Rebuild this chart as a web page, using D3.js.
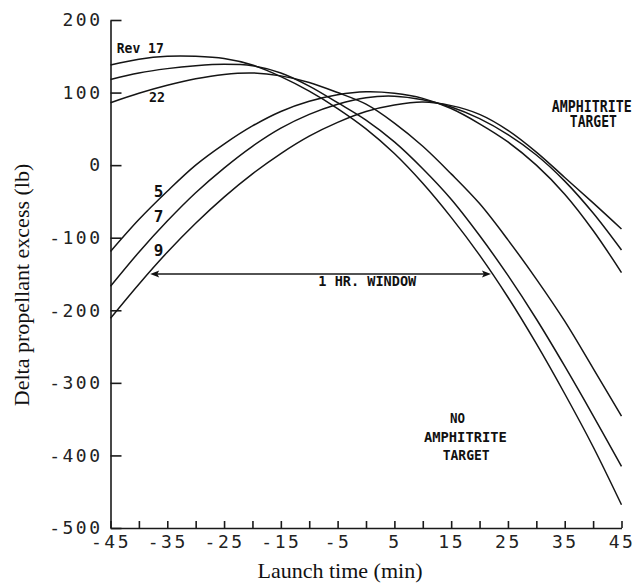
<!DOCTYPE html>
<html>
<head>
<meta charset="utf-8">
<script src="https://cdn.jsdelivr.net/npm/d3@7"></script>
<style>
  body { margin: 0; background: #fff; }
  .tick-label { font-family: "DejaVu Sans Mono", monospace; font-size: 18px; fill: #222; letter-spacing: 2.5px; }
  .note { font-family: "DejaVu Sans Mono", monospace; font-weight: bold; fill: #111; }
  .axis-title { font-family: "Liberation Serif", "Times New Roman", serif; font-size: 22px; fill: #111; }
  .curve { fill: none; stroke: #151515; stroke-width: 1.5px; }
  .axis-line { stroke: #1a1a1a; stroke-width: 1.6px; }
</style>
</head>
<body>
<div id="chart"></div>
<script>
  const w = 642;
  const h = 584;

  // launch time (min), every 5 minutes
  const minutes = [-45, -40, -35, -30, -25, -20, -15, -10, -5, 0, 5, 10, 15, 20, 25, 30, 35, 40, 45];

  // delta propellant excess (lb)
  const rev17 = [138, 146, 150, 150, 147, 138, 122, 102, 78, 50, 16, -25, -72, -124, -182, -246, -315, -388, -468];
  const revMiddle = [118, 127, 133, 137, 139, 137, 127, 109, 86, 62, 32, -5, -47, -97, -152, -212, -277, -345, -415];
  const rev22 = [86, 99, 110, 119, 125, 127, 123, 114, 100, 84, 58, 26, -12, -53, -103, -157, -215, -280, -346];
  const rev5 = [-119, -75, -36, 0, 29, 54, 74, 88, 97, 101, 99, 92, 78, 57, 32, 0, -40, -90, -148];
  const rev7 = [-167, -120, -77, -38, -4, 26, 51, 70, 84, 93, 95, 90, 80, 64, 42, 14, -22, -66, -117];
  const rev9 = [-211, -164, -120, -80, -44, -12, 16, 40, 59, 74, 83, 87, 82, 70, 48, 18, -17, -52, -88];

  const yTicks = [200, 100, 0, -100, -200, -300, -400, -500];
  const windowMinutes = [-38, 22];
  const windowLevel = -150;

  const series = [rev17, revMiddle, rev22, rev5, rev7, rev9];

  const x = d3.scaleLinear().domain([-45, 45]).range([110.5, 621.5]);
  const y = d3.scaleLinear().domain([-500, 200]).range([528, 20]);

  const svg = d3.select('#chart')
    .append('svg')
      .attr('width', w)
      .attr('height', h);

  // y axis, ticks pointing into the plot
  const yAxis = svg.append('g')
      .attr('transform', 'translate(' + x(-45) + ',0)')
      .call(d3.axisLeft(y)
        .tickValues(yTicks)
        .tickSize(-11)
        .tickSizeOuter(0)
        .tickPadding(8)
        .tickFormat(d => String(d)));

  // x axis, small ticks every 5 min, labels every 10
  const xAxis = svg.append('g')
      .attr('transform', 'translate(0,' + y(-500) + ')')
      .call(d3.axisBottom(x)
        .tickValues(minutes)
        .tickSize(-7)
        .tickSizeOuter(0)
        .tickPadding(7)
        .tickFormat((d, i) => i % 2 === 0 ? String(d) : ''));

  [yAxis, xAxis].forEach(a => {
    a.select('.domain').classed('axis-line', true);
    a.selectAll('.tick line').classed('axis-line', true);
    a.selectAll('.tick text').attr('class', 'tick-label');
  });

  // curves
  const line = d3.line()
      .x((d, i) => x(minutes[i]))
      .y(d => y(d))
      .curve(d3.curveCatmullRom.alpha(0.5));

  svg.append('g').selectAll('path')
      .data(series)
    .enter().append('path')
      .attr('class', 'curve')
      .attr('d', line);

  // 1 hr window arrow
  const ay = y(windowLevel);
  const ax1 = x(windowMinutes[0]);
  const ax2 = x(windowMinutes[1]);
  svg.append('line')
      .attr('x1', ax1 + 4).attr('x2', ax2 - 4)
      .attr('y1', ay).attr('y2', ay)
      .attr('class', 'axis-line');
  svg.append('path')
      .attr('d', `M${ax1},${ay} L${ax1 + 9},${ay - 3.5} L${ax1 + 7},${ay} L${ax1 + 9},${ay + 3.5} Z`)
      .style('fill', '#111');
  svg.append('path')
      .attr('d', `M${ax2},${ay} L${ax2 - 9},${ay - 3.5} L${ax2 - 7},${ay} L${ax2 - 9},${ay + 3.5} Z`)
      .style('fill', '#111');

  // notes
  const note = (t, v, txt, size, len) => {
    const el = svg.append('text')
        .attr('class', 'note')
        .attr('x', x(t))
        .attr('y', y(v))
        .style('font-size', size + 'px')
        .text(txt);
    if (len) el.attr('textLength', len).attr('lengthAdjust', 'spacingAndGlyphs');
  };

  note(-43.9, 154, 'Rev 17', 14, 47);
  note(-38.2, 87, '22', 14, 16);
  note(-37.4, -43.5, '5', 16);
  note(-37.4, -78, '7', 16);
  note(-37.4, -125, '9', 16);
  note(-8.4, -167, '1 HR. WINDOW', 14, 98);

  note(32.7, 73, 'AMPHITRITE', 16, 80);
  note(35.9, 52, 'TARGET', 16, 47);

  note(14.8, -356, 'NO', 14, 15);
  note(10.2, -382, 'AMPHITRITE', 14, 83);
  note(13.5, -406, 'TARGET', 14, 47);

  // axis titles
  svg.append('text')
      .attr('class', 'axis-title')
      .attr('x', 340)
      .attr('y', 578)
      .style('text-anchor', 'middle')
      .text('Launch time (min)');

  svg.append('text')
      .attr('class', 'axis-title')
      .attr('transform', 'translate(29,285) rotate(-90)')
      .style('text-anchor', 'middle')
      .text('Delta propellant excess (lb)');
</script>
</body>
</html>
